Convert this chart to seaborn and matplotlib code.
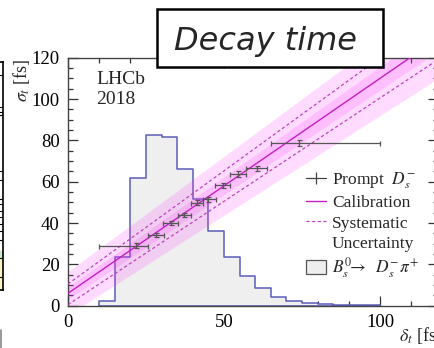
import numpy as np
import pandas as pd
import matplotlib
matplotlib.use("Agg")
import matplotlib.pyplot as plt
import seaborn as sns
from matplotlib.patches import Patch, Rectangle
from matplotlib.lines import Line2D
from matplotlib.ticker import MultipleLocator

# ---------------- data ----------------
hist_edges = [10, 15, 20, 25, 30, 35, 40, 45, 50, 55, 60, 65, 70, 75, 80, 85, 90, 95, 100]
hist_heights = [2.3, 23.5, 61.6, 82.6, 81.5, 66.0, 51.5, 36.1, 23.5, 14.2, 8.4,
                4.4, 2.4, 1.5, 0.8, 0.4, 0.2, 0.2]

prompt_x = [21.8, 28.2, 33.0, 37.2, 41.2, 45.0, 49.6, 54.6, 60.5, 73.9]
prompt_y = [28.9, 34.2, 40.2, 43.9, 49.8, 51.6, 58.2, 63.7, 66.5, 78.9]
prompt_xlo = [10.0, 25.7, 30.6, 35.4, 39.3, 43.2, 47.1, 51.9, 57.2, 65.0]
prompt_xhi = [25.7, 30.9, 35.4, 39.3, 43.2, 47.4, 51.9, 57.2, 63.8, 100.0]
prompt_yerr = [1.2, 1.0, 1.0, 1.0, 1.2, 1.2, 1.3, 1.3, 1.3, 1.5]

calib_x = [0, 120]
calib_y = [6.0, 130.8]
syst_upper = [10.5, 141.9]
syst_lower = [0.5, 120.5]
outer_upper = [16.5, 150.3]
outer_lower = [-4.5, 111.3]
inner_upper = [9.0, 137.0]
inner_lower = [3.0, 124.6]

x_ticks = [0, 50, 100]
y_ticks = [0, 20, 40, 60, 80, 100, 120]

# ---------------- style ----------------
sns.set_theme(style="ticks")
plt.rcParams["font.family"] = ["Liberation Serif", "DejaVu Serif"]
plt.rcParams["mathtext.fontset"] = "stix"

W, H = 435, 348
fig = plt.figure(figsize=(W / 100, H / 100), dpi=100)

def fx(px):
    return px / W

def fy(py):
    return (H - py) / H

# left neighbour panel sliver
axl = fig.add_axes([fx(-60), fy(290), fx(63.3), fy(61.7) - fy(290)])
axl.set_xlim(0, 1)
axl.set_ylim(0, 1)
axl.axhspan(0, 0.14, color="#fbf3c0")
axl.axhspan(0.14, 0.17, color="#cfe6cf")
for yy in [0.14, 0.055, 0.22, 0.26, 0.29, 0.32, 0.345, 0.375, 0.4, 0.48, 0.52, 0.8, 0.78, 0.765, 0.94]:
    axl.axhline(yy, color="black", lw=0.8)
axl.set_xticks([])
axl.set_yticks([])
for s in axl.spines.values():
    s.set_color("black")
    s.set_linewidth(1.2)
fig.add_artist(Line2D([fx(1), fx(1)], [fy(348), fy(330)], color="#888888", lw=1.2))

# main axes
x0, x1 = 0.0, 118.5
ax = fig.add_axes([fx(68), fy(305.7), fx(68 + (x1 - x0) * 3.12) - fx(68), fy(57.7) - fy(305.7)])

df_h = pd.DataFrame({"x": [(a + b) / 2 for a, b in zip(hist_edges[:-1], hist_edges[1:])],
                     "w": hist_heights})
sns.histplot(data=df_h, x="x", weights="w", bins=hist_edges, element="step", fill=True,
             facecolor="#efefef", edgecolor="#5c5cb8", linewidth=1.1, alpha=1, ax=ax, zorder=1)

ax.fill_between(calib_x, outer_lower, outer_upper, color="#ff30ff", alpha=0.17, lw=0, zorder=2)
ax.fill_between(calib_x, inner_lower, inner_upper, color="#ff30ff", alpha=0.17, lw=0, zorder=2)

df_c = pd.DataFrame({"x": calib_x, "c": calib_y, "u": syst_upper, "l": syst_lower})
sns.lineplot(data=df_c, x="x", y="c", color="#c21fc2", lw=1.0, ax=ax, zorder=3)
sns.lineplot(data=df_c, x="x", y="u", color="#c040c0", lw=0.9, ls=(0, (2.5, 2)), ax=ax, zorder=3)
sns.lineplot(data=df_c, x="x", y="l", color="#c040c0", lw=0.9, ls=(0, (2.5, 2)), ax=ax, zorder=3)

xerr = [np.array(prompt_x) - np.array(prompt_xlo), np.array(prompt_xhi) - np.array(prompt_x)]
ax.errorbar(prompt_x, prompt_y, xerr=xerr, yerr=prompt_yerr, fmt="none", ecolor="#555555",
            elinewidth=0.9, capsize=1.8, capthick=0.9, zorder=4)

ax.set_xlim(x0, x1)
ax.set_ylim(0, 120)
ax.set_xticks(x_ticks)
ax.set_yticks(y_ticks)
ax.xaxis.set_minor_locator(MultipleLocator(10))
ax.yaxis.set_minor_locator(MultipleLocator(5))
ax.tick_params(which="both", direction="in", top=True, right=True, labelsize=13.5,
               colors="#333333", labelcolor="black")
ax.tick_params(which="major", length=7, width=0.9, pad=6)
ax.tick_params(which="minor", length=3.5, width=0.9)
ax.set_xlabel("")
ax.set_ylabel("")
for s in ax.spines.values():
    s.set_visible(True)
    s.set_color("#444444")
    s.set_linewidth(1.0)

fig.text(fx(96), fy(84.5), "LHCb", fontsize=14)
fig.text(fx(96), fy(104.5), "2018", fontsize=14)

fig.text(fx(22), fy(59), r"$\sigma_t$ [fs]", rotation=90, fontsize=13, ha="center", va="top")
fig.text(fx(399), fy(341), r"$\delta_t$ [fs]", fontsize=13, ha="left", va="baseline")

handles = [
    Line2D([], [], color="#444444", lw=0.9, marker="|", markersize=9, markeredgewidth=0.9),
    Line2D([], [], color="#c21fc2", lw=1.0),
    Line2D([], [], color="#c040c0", lw=0.9, ls=(0, (2.5, 2))),
    Line2D([], [], color="none"),
    Patch(facecolor="#eeeeee", edgecolor="#555555", lw=0.9),
]
labels = [r"Prompt  $D_s^{-}$", "Calibration", "Systematic", "Uncertainty",
          r"$B_s^0\!\!\rightarrow\;\; D_s^{-}\pi^{+}$"]
ax.legend(handles, labels, loc="upper left", bbox_to_anchor=(fx(306), fy(170)),
          bbox_transform=fig.transFigure, frameon=False, fontsize=12.5, borderpad=0,
          borderaxespad=0, handlelength=1.15, handleheight=0.85, handletextpad=0.35,
          labelspacing=0.2)

# title box
fig.add_artist(Rectangle((fx(157), fy(67)), fx(383) - fx(157), fy(9) - fy(67),
                         transform=fig.transFigure, facecolor="white", edgecolor="black",
                         lw=1.8, zorder=10))
fig.text(fx(266), fy(50), "Decay time", fontsize=23, style="italic",
         family=["DejaVu Sans"], ha="center", va="baseline", zorder=11)

fig.savefig("out.png", dpi=100)
